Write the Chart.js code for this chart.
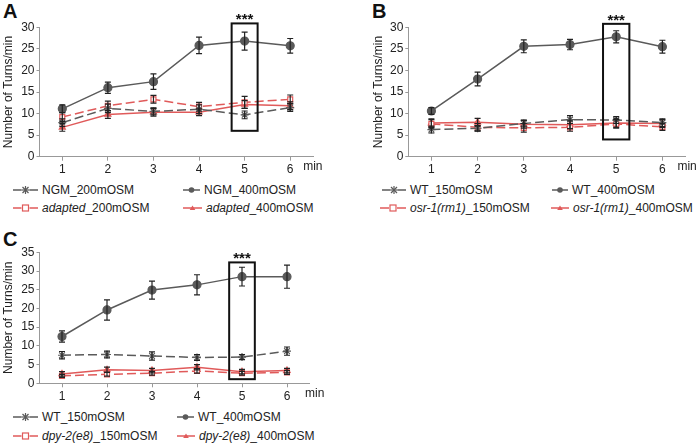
<!DOCTYPE html>
<html>
<head>
<meta charset="utf-8">
<script src="https://cdn.jsdelivr.net/npm/chart.js@4.4.0/dist/chart.umd.min.js"></script>
<style>
  body { margin: 0; background: #fff; width: 697px; height: 444px; position: relative; overflow: hidden;
         font-family: "Liberation Sans", Arial, sans-serif; color: #222; }
  canvas { position: absolute; }
  .letter { position: absolute; font-weight: bold; font-size: 20px; line-height: 20px; color: #111; }
  .leg { position: absolute; font-size: 12px; line-height: 14px; white-space: nowrap; display: flex; align-items: center; }
  .leg svg { margin-right: 4px; }
</style>
</head>
<body>
<div class="letter" style="left:3px;top:1px">A</div>
<div class="letter" style="left:372px;top:1px">B</div>
<div class="letter" style="left:3px;top:229px">C</div>
<canvas id="chartA" width="330" height="175" style="left:0;top:0"></canvas>
<canvas id="chartB" width="347" height="175" style="left:350px;top:0"></canvas>
<canvas id="chartC" width="330" height="175" style="left:0;top:230px"></canvas>
<div id="legends"></div>
<script>
const minutes = ['1', '2', '3', '4', '5', '6'];
const ticksAB = 30;
const ticksC = 35;

// A: NGM vs adapted
const ngm200 = [7.9, 11.2, 10.5, 11.0, 9.7, 11.4];
const ngm200Err = [0.9, 1.0, 0.8, 1.0, 0.9, 0.9];
const ngm400 = [11.1, 16.0, 17.4, 25.8, 26.8, 25.7];
const ngm400Err = [0.9, 1.3, 1.8, 1.9, 2.1, 1.7];
const adapted200 = [9.2, 11.8, 13.3, 11.6, 12.6, 13.3];
const adapted200Err = [1.0, 1.1, 0.9, 1.0, 1.4, 1.0];
const adapted400 = [6.8, 9.8, 10.3, 10.3, 12.1, 11.8];
const adapted400Err = [0.9, 0.9, 0.9, 0.8, 0.9, 0.9];
const boxA = [6.0, 30.9];

// B: WT vs osr-1
const wt150B = [6.3, 6.6, 7.7, 8.6, 8.5, 7.9];
const wt150BErr = [0.8, 0.6, 0.8, 0.9, 0.8, 0.9];
const wt400B = [10.6, 18.0, 25.6, 26.0, 27.8, 25.5];
const wt400BErr = [0.8, 1.6, 1.5, 1.2, 1.4, 1.5];
const osr150 = [7.6, 6.8, 6.7, 6.8, 7.6, 6.9];
const osr150Err = [1.0, 0.9, 1.0, 0.9, 1.0, 0.8];
const osr400 = [7.8, 8.0, 7.5, 7.4, 7.8, 7.7];
const osr400Err = [1.0, 0.9, 0.9, 0.9, 1.0, 0.9];
const boxB = [4.0, 30.8];

// C: WT vs dpy-2
const wt150C = [7.5, 7.7, 7.3, 6.9, 7.0, 8.6];
const wt150CErr = [1.0, 0.9, 1.1, 0.8, 0.7, 1.1];
const wt400C = [12.5, 19.6, 24.9, 26.3, 28.5, 28.5];
const wt400CErr = [1.5, 2.7, 2.4, 2.7, 2.5, 3.1];
const dpy150 = [2.0, 2.4, 2.7, 3.3, 2.7, 2.9];
const dpy150Err = [0.4, 0.5, 0.5, 0.6, 0.5, 0.5];
const dpy400 = [2.5, 3.6, 3.4, 4.3, 3.1, 3.4];
const dpy400Err = [0.6, 0.7, 0.6, 0.7, 0.6, 0.6];
const boxC = [1.1, 32.3];

const GRAY = '#5a5a5a';
const RED = '#e05a5a';
const font = { family: '"Liberation Sans", Arial, sans-serif', size: 12 };

// series styles
const styles = {
  low:    { color: GRAY, dash: [9, 4], point: 'star', radius: 4, fill: GRAY },
  high:   { color: GRAY, dash: [], point: 'circle', radius: 4, fill: GRAY },
  mutLow: { color: RED, dash: [9, 4], point: 'rect', radius: 3.5, fill: '#fff' },
  mutHigh:{ color: RED, dash: [], point: 'triangle', radius: 3.5, fill: RED }
};

const extras = {
  id: 'extras',
  afterDatasetsDraw(chart, args, opts) {
    const ctx = chart.ctx, x = chart.scales.x, y = chart.scales.y;
    ctx.save();
    chart.data.datasets.forEach(ds => {
      ctx.strokeStyle = '#222';
      ctx.lineWidth = 1.2;
      ds.data.forEach((v, i) => {
        const px = x.getPixelForValue(i);
        const t = y.getPixelForValue(v + ds.errors[i]);
        const b = y.getPixelForValue(v - ds.errors[i]);
        ctx.beginPath();
        ctx.moveTo(px, t); ctx.lineTo(px, b);
        ctx.moveTo(px - 3, t); ctx.lineTo(px + 3, t);
        ctx.moveTo(px - 3, b); ctx.lineTo(px + 3, b);
        ctx.stroke();
      });
    });
    // significance box around minute 5
    const step = x.getPixelForValue(1) - x.getPixelForValue(0);
    const cx = x.getPixelForValue(4);
    const top = y.getPixelForValue(opts.box[1]);
    const bot = y.getPixelForValue(opts.box[0]);
    ctx.strokeStyle = '#111';
    ctx.lineWidth = 2;
    ctx.strokeRect(cx - step * 0.285, top, step * 0.57, bot - top);
    ctx.fillStyle = '#111';
    ctx.font = 'bold 15px "Liberation Sans", Arial, sans-serif';
    ctx.textAlign = 'center';
    ctx.textBaseline = 'alphabetic';
    ctx.fillText('***', cx, top + 1);
    // axis unit
    ctx.font = '12px "Liberation Sans", Arial, sans-serif';
    ctx.fillStyle = '#222';
    ctx.textAlign = 'left';
    ctx.textBaseline = 'middle';
    ctx.fillText('min', x.getPixelForValue(5) + opts.minGap, y.getPixelForValue(0) + 10);
    ctx.restore();
  }
};

function makeChart(id, cfg) {
  return new Chart(document.getElementById(id), {
    type: 'line',
    data: {
      labels: minutes,
      datasets: cfg.series.map(s => ({
        label: s.label,
        data: s.data,
        errors: s.err,
        borderColor: s.style.color,
        backgroundColor: s.style.fill,
        borderWidth: 1.5,
        borderDash: s.style.dash,
        pointStyle: s.style.point,
        pointRadius: s.style.radius,
        pointBorderColor: s.style.color,
        pointBackgroundColor: s.style.fill,
        pointBorderWidth: 1.2,
        tension: 0
      }))
    },
    options: {
      responsive: false,
      animation: false,
      devicePixelRatio: 1,
      layout: { padding: cfg.pad },
      plugins: {
        legend: { display: false },
        tooltip: { enabled: false },
        extras: { box: cfg.box, minGap: cfg.minGap }
      },
      scales: {
        x: {
          offset: true,
          grid: { drawOnChartArea: false, tickLength: 4, color: '#999', offset: false },
          border: { color: '#999' },
          ticks: { font: font, color: '#222', padding: 2, maxRotation: 0 },
          afterFit: s => { s.height = cfg.xh; }
        },
        y: {
          min: 0, max: cfg.ymax,
          grid: { drawOnChartArea: false, tickLength: 3, color: '#999' },
          border: { color: '#999' },
          ticks: { stepSize: 5, font: font, color: '#222', padding: 2 },
          title: { display: true, text: 'Number of Turns/min', font: font, color: '#222',
                   padding: { top: cfg.titlePad, bottom: 0 } },
          afterFit: s => { s.width = cfg.yw; }
        }
      }
    },
    plugins: [extras]
  });
}

makeChart('chartA', {
  ymax: ticksAB, box: boxA, minGap: 13, xh: 18.3, yw: 39.5, titlePad: 1.3,
  pad: { top: 27.3, right: 17, left: 0, bottom: 0 },
  series: [
    { label: 'NGM_200mOSM', data: ngm200, err: ngm200Err, style: styles.low },
    { label: 'NGM_400mOSM', data: ngm400, err: ngm400Err, style: styles.high },
    { label: 'adapted_200mOSM', data: adapted200, err: adapted200Err, style: styles.mutLow },
    { label: 'adapted_400mOSM', data: adapted400, err: adapted400Err, style: styles.mutHigh }
  ]
});

makeChart('chartB', {
  ymax: ticksAB, box: boxB, minGap: 15, xh: 18.3, yw: 58.3, titlePad: 21,
  pad: { top: 27.3, right: 11.5, left: 0, bottom: 0 },
  series: [
    { label: 'WT_150mOSM', data: wt150B, err: wt150BErr, style: styles.low },
    { label: 'WT_400mOSM', data: wt400B, err: wt400BErr, style: styles.high },
    { label: 'osr-1(rm1)_150mOSM', data: osr150, err: osr150Err, style: styles.mutLow },
    { label: 'osr-1(rm1)_400mOSM', data: osr400, err: osr400Err, style: styles.mutHigh }
  ]
});

makeChart('chartC', {
  ymax: ticksC, box: boxC, minGap: 18, xh: 21.7, yw: 39.5, titlePad: 1.1,
  pad: { top: 22.3, right: 20.5, left: 0, bottom: 0 },
  series: [
    { label: 'WT_150mOSM', data: wt150C, err: wt150CErr, style: styles.low },
    { label: 'WT_400mOSM', data: wt400C, err: wt400CErr, style: styles.high },
    { label: 'dpy-2(e8)_150mOSM', data: dpy150, err: dpy150Err, style: styles.mutLow },
    { label: 'dpy-2(e8)_400mOSM', data: dpy400, err: dpy400Err, style: styles.mutHigh }
  ]
});

// legends: [x of sample, x of text, y centre, style, html label]
const legendItems = [
  [13, 42, 190, 'low', 'NGM_200mOSM'],
  [183, 204, 190, 'high', 'NGM_400mOSM'],
  [13, 42, 207.7, 'mutLow', '<i>adapted</i>_200mOSM'],
  [183, 206, 207.7, 'mutHigh', '<i>adapted</i>_400mOSM'],
  [382, 410, 190, 'low', 'WT_150mOSM'],
  [552, 572, 190, 'high', 'WT_400mOSM'],
  [380, 410, 207.7, 'mutLow', '<i>osr-1(rm1)</i>_150mOSM'],
  [551, 573, 207.7, 'mutHigh', '<i>osr-1(rm1)</i>_400mOSM'],
  [13, 42, 416.7, 'low', 'WT_150mOSM'],
  [177, 198, 416.7, 'high', 'WT_400mOSM'],
  [13, 42, 435.7, 'mutLow', '<i>dpy-2(e8)</i>_150mOSM'],
  [177, 199, 435.7, 'mutHigh', '<i>dpy-2(e8)</i>_400mOSM']
];

function sample(kind, w) {
  const st = styles[kind];
  const m = w / 2;
  let mark = '';
  if (kind === 'low') {
    mark = `<g stroke="${st.color}" stroke-width="1.2">
      <line x1="${m - 4}" y1="5" x2="${m + 4}" y2="5"/><line x1="${m}" y1="1" x2="${m}" y2="9"/>
      <line x1="${m - 3}" y1="2" x2="${m + 3}" y2="8"/><line x1="${m - 3}" y1="8" x2="${m + 3}" y2="2"/></g>`;
  } else if (kind === 'high') {
    mark = `<circle cx="${m}" cy="5" r="2.8" fill="${st.color}"/>`;
  } else if (kind === 'mutLow') {
    mark = `<rect x="${m - 3}" y="2" width="6" height="6" fill="#fff" stroke="${st.color}" stroke-width="1.2"/>`;
  } else {
    mark = `<polygon points="${m - 2.8},7 ${m + 2.8},7 ${m},2.5" fill="${st.color}"/>`;
  }
  const gap = kind === 'low' || kind === 'mutLow' ? 4 : 0;
  return `<svg width="${w}" height="10" viewBox="0 0 ${w} 10">
    <line x1="0" y1="5" x2="${m - gap}" y2="5" stroke="${st.color}" stroke-width="1.5"/>
    <line x1="${m + gap}" y1="5" x2="${w}" y2="5" stroke="${st.color}" stroke-width="1.5"/>${mark}</svg>`;
}

const legendHost = document.getElementById('legends');
legendItems.forEach(([sx, tx, cy, kind, label]) => {
  const d = document.createElement('div');
  d.className = 'leg';
  d.style.left = sx + 'px';
  d.style.top = (cy - 7) + 'px';
  d.innerHTML = sample(kind, tx - sx - 4) + '<span>' + label + '</span>';
  legendHost.appendChild(d);
});
</script>
</body>
</html>
